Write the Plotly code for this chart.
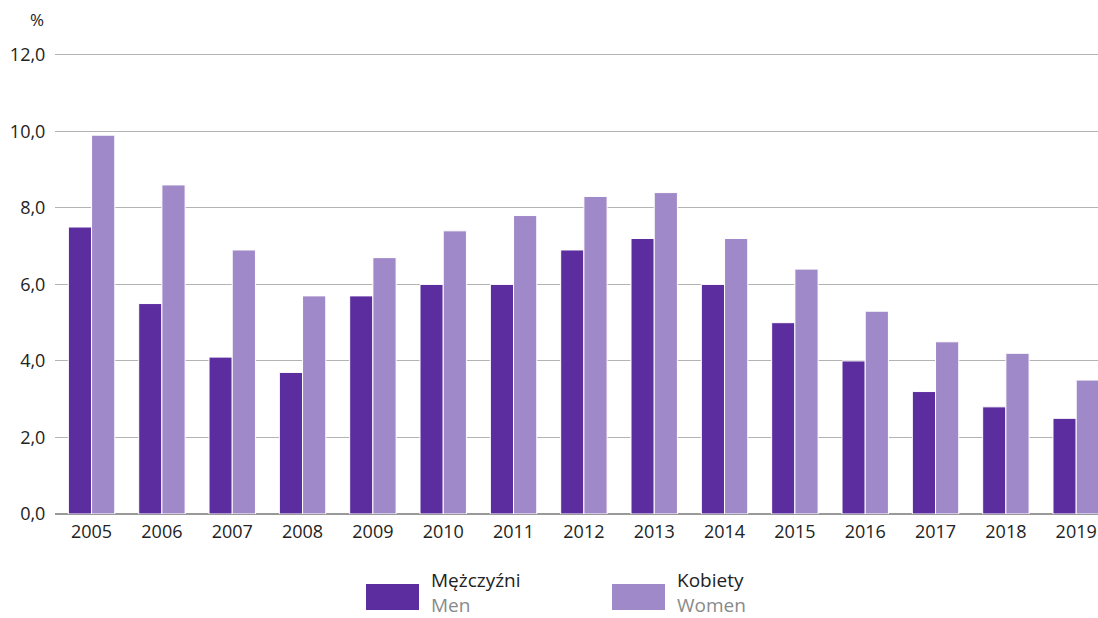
import plotly.graph_objects as go

years = ["2005", "2006", "2007", "2008", "2009", "2010", "2011", "2012",
         "2013", "2014", "2015", "2016", "2017", "2018", "2019"]
men = [7.5, 5.5, 4.1, 3.7, 5.7, 6.0, 6.0, 6.9, 7.2, 6.0, 5.0, 4.0, 3.2, 2.8, 2.5]
women = [9.9, 8.6, 6.9, 5.7, 6.7, 7.4, 7.8, 8.3, 8.4, 7.2, 6.4, 5.3, 4.5, 4.2, 3.5]

MEN_C = "#5c2d9f"
WOMEN_C = "#a089c8"
FONT = "Open Sans, Noto Sans, sans-serif"

W, H = 1098, 618
PLOT_BOTTOM = 514          # pixel of y = 0
PX_PER_UNIT = (514 - 55) / 12.0
YMAX = 12.1
L, R = 55, 0
T = int(round(PLOT_BOTTOM - YMAX * PX_PER_UNIT))
B = H - PLOT_BOTTOM
pw, ph = W - L - R, H - T - B

def px(x):
    return (x - L) / pw

def py(y):
    return (PLOT_BOTTOM - y) / ph

fig = go.Figure()
fig.add_bar(x=years, y=men, name="Mężczyźni", marker_color=MEN_C,
            marker_line_color="#ffffff", marker_line_width=1)
fig.add_bar(x=years, y=women, name="Kobiety", marker_color=WOMEN_C,
            marker_line_color="#ffffff", marker_line_width=1)

shapes = []
annotations = []
for (x0, label_pl, label_en, col) in [(366, "Mężczyźni", "Men", MEN_C),
                                       (612, "Kobiety", "Women", WOMEN_C)]:
    shapes.append(dict(type="rect", xref="paper", yref="paper",
                       x0=px(x0), x1=px(x0 + 53), y0=py(610), y1=py(584),
                       fillcolor=col, line_width=0))
    annotations.append(dict(xref="paper", yref="paper", x=px(x0 + 64), y=py(592),
                            text=f"{label_pl}<br><span style='color:#8a8a8a'>{label_en}</span>",
                            showarrow=False, xanchor="left", yanchor="middle", align="left",
                            borderpad=0,
                            font=dict(size=19, color="#222222", family=FONT)))

annotations.append(dict(xref="paper", yref="paper", x=px(37), y=py(20),
                        text="%", showarrow=False, xanchor="center", yanchor="middle",
                        font=dict(size=17, color="#222222", family=FONT)))

fig.update_layout(
    width=W, height=H,
    margin=dict(l=L, r=R, t=T, b=B, pad=0),
    paper_bgcolor="white", plot_bgcolor="white",
    barmode="group", bargap=0.34, bargroupgap=0.0,
    separators=", ",
    showlegend=False,
    hovermode=False,
    font=dict(family=FONT, size=18, color="#222222"),
    shapes=shapes, annotations=annotations,
    xaxis=dict(type="category", range=[-0.52, 14.31], showgrid=False,
               ticks="outside", ticklen=1, tickcolor="rgba(0,0,0,0)",
               tickfont=dict(size=18, color="#222222"),
               showline=False, zeroline=False),
    yaxis=dict(range=[0, YMAX], tickvals=[0, 2, 4, 6, 8, 10, 12],
               tickformat=".1f", showgrid=True,
               gridcolor="#b3b3b3", gridwidth=1, zeroline=True,
               zerolinecolor="#999999", zerolinewidth=1.5,
               ticks="outside", ticklen=5, tickcolor="rgba(0,0,0,0)",
               tickfont=dict(size=18, color="#222222"), showline=False),
)

fig.write_html("out.html",
               config={"displayModeBar": False},
               post_script="document.body.style.margin='0';document.body.style.overflow='hidden';")
